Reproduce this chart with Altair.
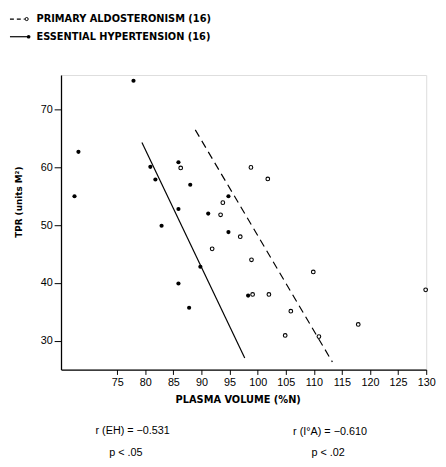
import altair as alt
import pandas as pd

# Essential hypertension (filled dots)
eh_x = [77.9, 68.1, 67.4, 80.9, 81.8, 85.9, 88.0, 85.9, 94.8, 82.9, 91.2, 94.8, 89.8, 85.9, 87.8, 98.3]
eh_y = [75.0, 62.7, 55.0, 60.1, 57.9, 60.9, 57.0, 52.8, 55.0, 49.9, 52.0, 48.8, 42.8, 39.9, 35.7, 37.8]
# Primary aldosteronism (open circles)
pa_x = [98.8, 101.8, 93.8, 93.4, 96.9, 91.9, 98.9, 109.9, 99.1, 102.0, 105.9, 104.9, 110.9, 117.9, 129.9, 86.3]
pa_y = [60.0, 58.0, 53.9, 51.8, 48.0, 45.9, 44.0, 41.9, 38.0, 38.0, 35.1, 30.9, 30.7, 32.8, 38.8, 59.9]
# regression lines (end points)
eh_line_x = [79.4, 97.7]
eh_line_y = [64.3, 27.0]
pa_line_x = [88.9, 113.3]
pa_line_y = [66.5, 26.3]

x_ticks = [75, 80, 85, 90, 95, 100, 105, 110, 115, 120, 125, 130]
y_ticks = [30, 40, 50, 60, 70]

legend_labels = ["PRIMARY ALDOSTERONISM (16)", "ESSENTIAL HYPERTENSION (16)"]
stats_text = ["r (EH) = \u22120.531", "p < .05", "r (I\u00b0A) = \u22120.610", "p < .02"]

W, H = 372, 300
FONT = "Liberation Sans"
BFONT = "DejaVu Sans"

xs = alt.Scale(domain=[65, 130], nice=False, zero=False)
ys = alt.Scale(domain=[25, 76], nice=False, zero=False)

xax = alt.Axis(values=x_ticks, tickCount=len(x_ticks), title="PLASMA VOLUME (%N)", grid=False,
               domainColor="black", domainWidth=1.3, tickColor="black", tickSize=5,
               tickWidth=1, labelFont=FONT, labelFontSize=11, labelColor="black",
               labelPadding=2, labelOverlap=False, labelFlush=False,
               titleFont=BFONT, titleFontSize=10, titleFontWeight="bold",
               titleColor="black", titleX=180, titleY=31, titleBaseline="middle",
               titleAlign="center")
yax = alt.Axis(values=y_ticks, tickCount=len(y_ticks), title="TPR (units M\u00b2)", grid=False,
               domainColor="black", domainWidth=1.3, tickColor="black", tickSize=7,
               tickWidth=1, labelFont=FONT, labelFontSize=11, labelColor="black",
               labelPadding=2, labelOverlap=False, labelFlush=False,
               titleFont=BFONT, titleFontSize=9, titleFontWeight="bold",
               titleColor="black", titleX=-43, titleY=129, titleBaseline="middle",
               titleAlign="center")

eh_df = pd.DataFrame({"x": eh_x, "y": eh_y})
pa_df = pd.DataFrame({"x": pa_x, "y": pa_y})
eh_ln = pd.DataFrame({"x": eh_line_x, "y": eh_line_y})
pa_ln = pd.DataFrame({"x": pa_line_x, "y": pa_line_y})

eh_pts = alt.Chart(eh_df).mark_point(filled=True, color="black", size=18, opacity=1).encode(
    x=alt.X("x:Q", scale=xs, axis=xax), y=alt.Y("y:Q", scale=ys, axis=yax))
pa_pts = alt.Chart(pa_df).mark_point(filled=False, color="black", size=14, strokeWidth=1.1, opacity=1).encode(
    x=alt.X("x:Q", scale=xs), y=alt.Y("y:Q", scale=ys))
eh_line = alt.Chart(eh_ln).mark_line(color="black", strokeWidth=1.2).encode(
    x=alt.X("x:Q", scale=xs), y=alt.Y("y:Q", scale=ys))
pa_line = alt.Chart(pa_ln).mark_line(color="black", strokeWidth=1.2, strokeDash=[8, 5]).encode(
    x=alt.X("x:Q", scale=xs), y=alt.Y("y:Q", scale=ys))

one = pd.DataFrame({"a": [0]})

def txt(s, x, y, font=FONT, size=11, weight="normal", align="left"):
    return alt.Chart(pd.DataFrame({"t": [s]})).mark_text(
        font=font, fontSize=size, fontWeight=weight, align=align, baseline="middle", color="black"
    ).encode(text="t:N", x=alt.value(x), y=alt.value(y))

# legend
leg = [
    alt.Chart(one).mark_rule(color="black", strokeWidth=1.2, strokeDash=[4, 3]).encode(
        x=alt.value(-52), x2=alt.value(-37), y=alt.value(-57)),
    alt.Chart(one).mark_point(filled=False, color="black", size=10, strokeWidth=1, opacity=1).encode(
        x=alt.value(-35), y=alt.value(-57)),
    alt.Chart(one).mark_rule(color="black", strokeWidth=1.2).encode(
        x=alt.value(-52), x2=alt.value(-34), y=alt.value(-39)),
    alt.Chart(one).mark_point(filled=True, color="black", size=14, opacity=1).encode(
        x=alt.value(-33), y=alt.value(-39)),
    txt(legend_labels[0], -25, -57, font=BFONT, size=10, weight="bold"),
    txt(legend_labels[1], -25, -39, font=BFONT, size=10, weight="bold"),
]

stats = [
    txt(stats_text[0], 73, 363, align="center"),
    txt(stats_text[1], 66, 385, align="center"),
    txt(stats_text[2], 274, 364, align="center"),
    txt(stats_text[3], 272, 385, align="center"),
]

chart = alt.layer(eh_line, pa_line, eh_pts, pa_pts, *leg, *stats).properties(
    width=W, height=H,
    padding={"left": 54, "top": 64, "right": 12, "bottom": 94},
    autosize=alt.AutoSizeParams(type="none"),
).configure_view(stroke=None).configure(background="white")

chart.save("out.html", embed_options={"renderer": "svg", "actions": False})
